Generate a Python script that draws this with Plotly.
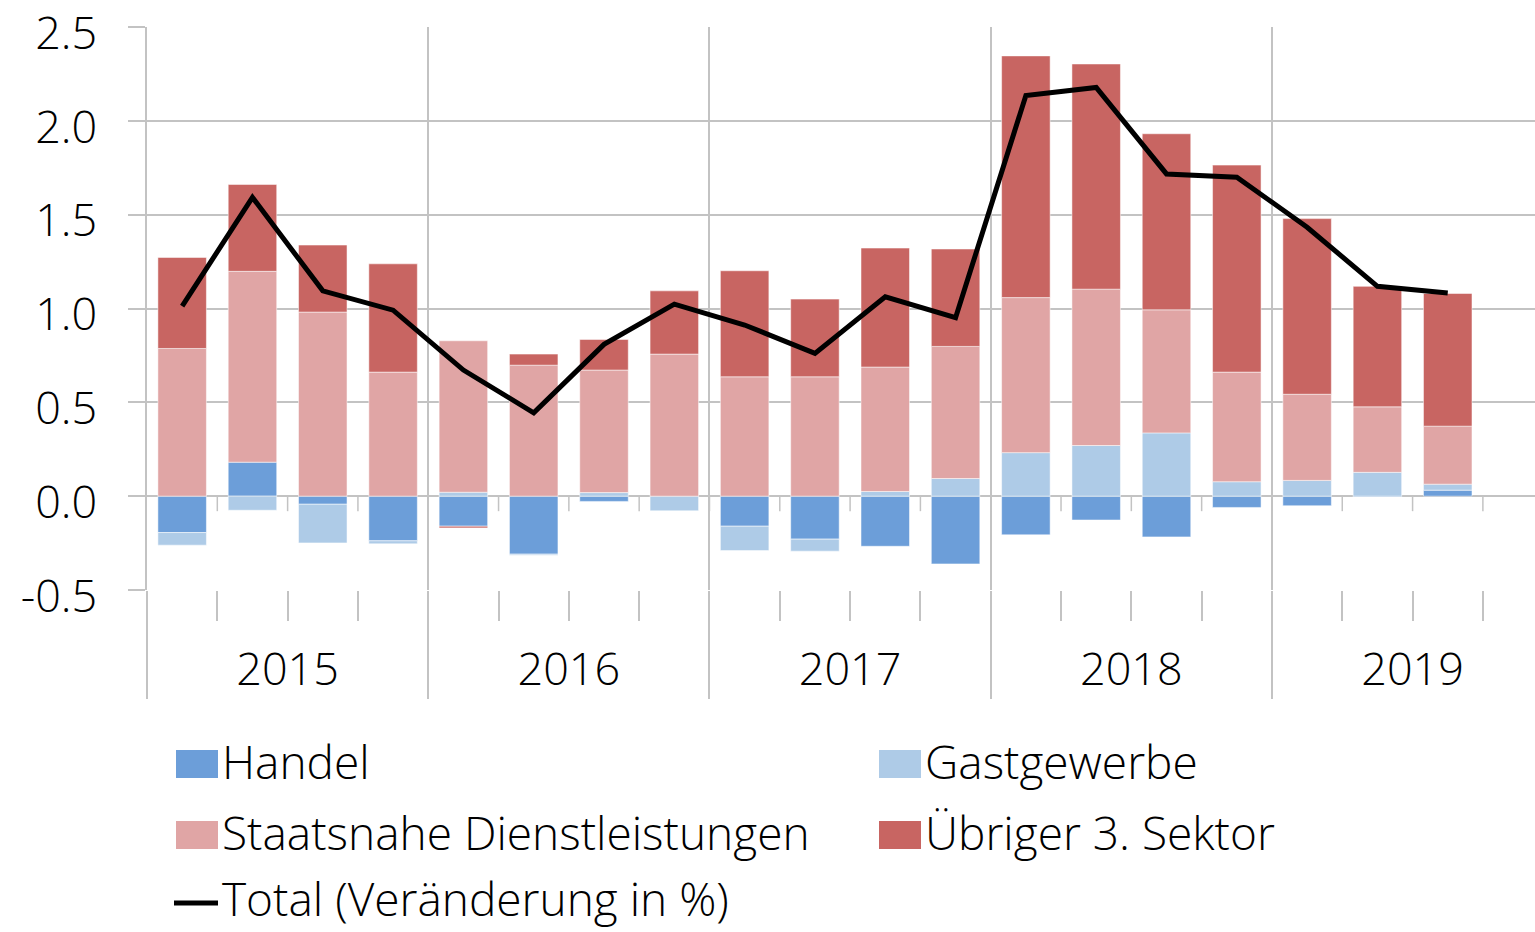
import plotly.graph_objects as go

# ---------------- data ----------------
quarters = ["2015 Q1", "2015 Q2", "2015 Q3", "2015 Q4",
            "2016 Q1", "2016 Q2", "2016 Q3", "2016 Q4",
            "2017 Q1", "2017 Q2", "2017 Q3", "2017 Q4",
            "2018 Q1", "2018 Q2", "2018 Q3", "2018 Q4",
            "2019 Q1", "2019 Q2", "2019 Q3"]
years = ["2015", "2016", "2017", "2018", "2019"]

handel = [-0.194, 0.181, -0.043, -0.238, -0.160, -0.309, -0.028, 0.000, -0.160, -0.229,
          -0.267, -0.361, -0.206, -0.127, -0.217, -0.060, -0.051, -0.005, 0.032]
gastgewerbe = [-0.067, -0.075, -0.206, -0.016, 0.021, -0.006, 0.019, -0.078, -0.130, -0.064,
               0.025, 0.094, 0.232, 0.270, 0.337, 0.077, 0.084, 0.127, 0.032]
staatsnahe = [0.787, 1.017, 0.981, 0.661, 0.807, 0.698, 0.653, 0.757, 0.636, 0.636,
              0.663, 0.704, 0.826, 0.833, 0.656, 0.584, 0.459, 0.349, 0.309]
uebriger = [0.485, 0.463, 0.357, 0.577, -0.009, 0.059, 0.163, 0.337, 0.565, 0.414,
            0.634, 0.519, 1.288, 1.200, 0.938, 1.103, 0.936, 0.642, 0.707]
total = [1.013, 1.592, 1.094, 0.991, 0.672, 0.444, 0.809, 1.023, 0.912, 0.761,
         1.062, 0.951, 2.135, 2.178, 1.717, 1.700, 1.433, 1.118, 1.082]

y_ticks = [-0.5, 0.0, 0.5, 1.0, 1.5, 2.0, 2.5]
y_ticktext = ["-0.5", "0.0", "0.5", "1.0", "1.5", "2.0", "2.5"]

series_names = ["Handel", "Gastgewerbe", "Staatsnahe Dienstleistungen", "Übriger 3. Sektor"]
series_vals = [handel, gastgewerbe, staatsnahe, uebriger]
series_colors = ["#6C9ED9", "#AECBE7", "#E0A5A5", "#C86562"]
line_name = "Total (Veränderung in %)"

# ---------------- layout constants ----------------
W, H = 1535, 932
L, R, T, B = 147, 0, 27, 342
QPY = 4                      # quarters per year
slot_px = 70.31
plot_w = W - L - R
plot_h = H - T - B
x_range = [-0.5, -0.5 + plot_w / slot_px]
y_range = [y_ticks[0], y_ticks[-1]]

GRID = "#C3C3C3"
FONT = "Open Sans"
FW = 300
TXT = "#000000"
FS_AX = 45
FS_LEG = 46

x = list(range(len(quarters)))

fig = go.Figure()
for name, vals, col in zip(series_names, series_vals, series_colors):
    fig.add_trace(go.Bar(
        x=x, y=vals, name=name,
        marker=dict(color=col, line=dict(color="rgba(255,255,255,0.5)", width=1)),
        width=0.69, showlegend=False, xaxis="x", yaxis="y"))

fig.add_trace(go.Scatter(
    x=x, y=total, name=line_name, mode="lines",
    line=dict(color="#000000", width=5), showlegend=False,
    xaxis="x2", yaxis="y"))

year_centers = [i * QPY + (QPY - 1) / 2 for i in range(len(years))]

fig.update_layout(
    width=W, height=H,
    margin=dict(l=L, r=R, t=T, b=B, pad=0, autoexpand=False),
    paper_bgcolor="white", plot_bgcolor="white",
    barmode="relative",
    font=dict(family=FONT, color=TXT, size=FS_AX, weight=FW),
    xaxis=dict(
        range=x_range, tickmode="linear", tick0=-0.5, dtick=QPY, automargin=False,
        showticklabels=False, ticks="outside", ticklen=108, tickwidth=1.5, tickcolor=GRID,
        showgrid=True, gridcolor=GRID, gridwidth=1.5, zeroline=False, showline=False,
        minor=dict(tick0=-0.5, dtick=1, ticks="outside", ticklen=30, tickwidth=1.5,
                   tickcolor=GRID, showgrid=False),
    ),
    xaxis2=dict(
        range=x_range, overlaying="x", anchor="y", side="bottom", automargin=False,
        tickmode="array", tickvals=year_centers, ticktext=years,
        ticks="outside", ticklen=40, tickcolor="rgba(0,0,0,0)",
        showgrid=False, zeroline=False, showline=False,
        ticklabeloverflow="allow",
        tickfont=dict(family=FONT, size=FS_AX, color=TXT, weight=FW),
    ),
    yaxis=dict(
        range=y_range, tickmode="array", tickvals=y_ticks, ticktext=y_ticktext,
        automargin=False,
        ticks="outside", ticklen=17, tickwidth=1.5, tickcolor=GRID,
        showgrid=True, gridcolor=GRID, gridwidth=1.5, zeroline=False,
        showline=True, linecolor=GRID, linewidth=1.5,
        ticklabelstandoff=22, ticklabelshift=6, ticklabeloverflow="allow",
        tickfont=dict(family=FONT, size=FS_AX, color=TXT, weight=FW),
    ),
)

# small ticks on the zero line at each quarter boundary
tick_len_units = 15 / (plot_h / (y_range[1] - y_range[0]))
for k in range(len(quarters)):
    xb = k + 0.5
    fig.add_shape(type="line", xref="x", yref="y", x0=xb, x1=xb, y0=0, y1=-tick_len_units,
                  line=dict(color=GRID, width=1.5), layer="above")


# ---------------- manual legend ----------------
def px_x(p):
    return (p - L) / plot_w


def px_y(p):
    return (H - B - p) / plot_h


# (label, colour, symbol x, symbol y, text y, kind)
legend_items = [
    (series_names[0], series_colors[0], 176, 764, 761, "box"),
    (series_names[1], series_colors[1], 879, 764, 761, "box"),
    (series_names[2], series_colors[2], 176, 835, 832, "box"),
    (series_names[3], series_colors[3], 879, 835, 832, "box"),
    (line_name, "#000000", 176, 903, 898, "line"),
]
for name, col, lx, sy, ty, kind in legend_items:
    if kind == "box":
        fig.add_shape(type="rect", xref="paper", yref="paper",
                      x0=px_x(lx), x1=px_x(lx + 42), y0=px_y(sy + 14), y1=px_y(sy - 14),
                      fillcolor=col, line=dict(width=0))
    else:
        fig.add_shape(type="line", xref="paper", yref="paper",
                      x0=px_x(lx - 2), x1=px_x(lx + 42), y0=px_y(sy), y1=px_y(sy),
                      line=dict(color=col, width=5))
    fig.add_annotation(xref="paper", yref="paper", x=px_x(lx + 44), y=px_y(ty),
                       xanchor="left", yanchor="middle", showarrow=False,
                       text=name, font=dict(family=FONT, size=FS_LEG, color=TXT, weight=FW))

fig.write_html("out.html", config={"displayModeBar": False},
               post_script="document.body.style.margin='0';")
